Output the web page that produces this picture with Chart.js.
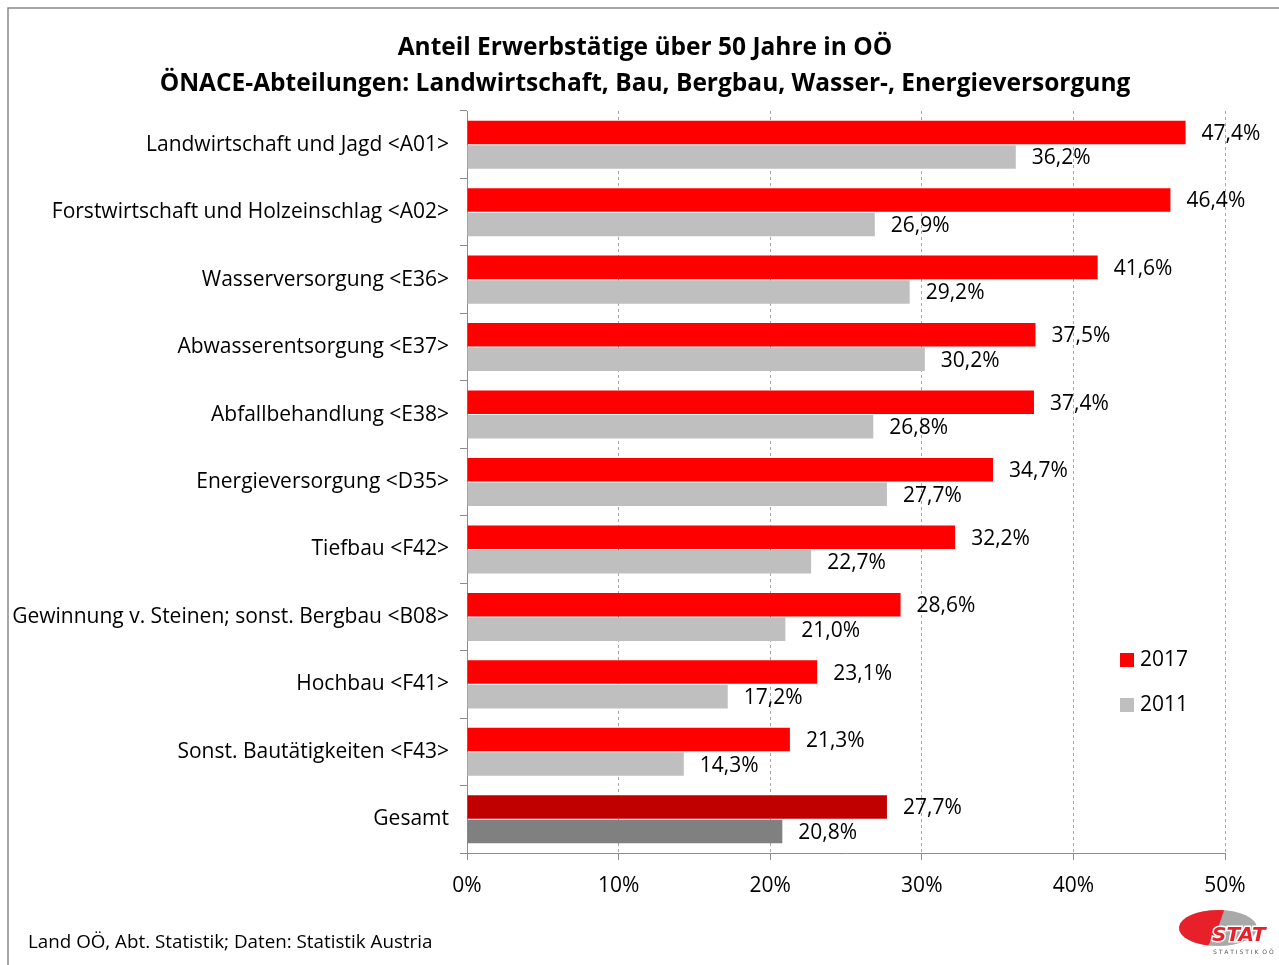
<!DOCTYPE html>
<html>
<head>
<meta charset="utf-8">
<script src="https://cdn.jsdelivr.net/npm/chart.js@4"></script>
<style>
  body { margin: 0; background: #fff; }
  #wrap { width: 1279px; height: 965px; }
</style>
</head>
<body>
<div id="wrap"><canvas id="chart" width="1279" height="965"></canvas></div>
<script>
// categories and values
const categories = [
  'Landwirtschaft und Jagd <A01>',
  'Forstwirtschaft und Holzeinschlag <A02>',
  'Wasserversorgung <E36>',
  'Abwasserentsorgung <E37>',
  'Abfallbehandlung <E38>',
  'Energieversorgung <D35>',
  'Tiefbau <F42>',
  'Gewinnung v. Steinen; sonst. Bergbau <B08>',
  'Hochbau <F41>',
  'Sonst. Bautätigkeiten <F43>',
  'Gesamt'
];
const values2017 = [47.4, 46.4, 41.6, 37.5, 37.4, 34.7, 32.2, 28.6, 23.1, 21.3, 27.7];
const values2011 = [36.2, 26.9, 29.2, 30.2, 26.8, 27.7, 22.7, 21.0, 17.2, 14.3, 20.8];
const xTicks = [0, 10, 20, 30, 40, 50];

const titleLines = [
  'Anteil Erwerbstätige über 50 Jahre in OÖ',
  'ÖNACE-Abteilungen: Landwirtschaft, Bau, Bergbau, Wasser-, Energieversorgung'
];
const sourceText = 'Land OÖ, Abt. Statistik; Daten: Statistik Austria';

const FONT = '"Open Sans", "Noto Sans", sans-serif';

// last bar (Gesamt) is drawn darker
const colors2017 = categories.map((c, i) => i === categories.length - 1 ? '#c00000' : '#ff0000');
const colors2011 = categories.map((c, i) => i === categories.length - 1 ? '#808080' : '#bfbfbf');

const fmt = v => v.toFixed(1).replace('.', ',') + '%';

// frame, titles, legend, source, logo and value labels
const extras = {
  id: 'extras',
  beforeDraw(chart) {
    const ctx = chart.ctx;
    ctx.save();
    ctx.fillStyle = '#fff';
    ctx.fillRect(0, 0, chart.width, chart.height);
    ctx.strokeStyle = '#8a8a8a';
    ctx.lineWidth = 1.5;
    ctx.beginPath();
    ctx.moveTo(8, chart.height);
    ctx.lineTo(8, 8);
    ctx.lineTo(chart.width, 8);
    ctx.stroke();
    ctx.restore();
  },
  afterDraw(chart) {
    const ctx = chart.ctx;
    ctx.save();
    // title
    ctx.fillStyle = '#000';
    ctx.textAlign = 'center';
    ctx.textBaseline = 'middle';
    ctx.font = 'bold 24.5px ' + FONT;
    ctx.fillText(titleLines[0], 645, 48);
    ctx.fillText(titleLines[1], 645, 84);

    // value labels
    ctx.font = '21px ' + FONT;
    ctx.textAlign = 'left';
    chart.data.datasets.forEach((ds, di) => {
      chart.getDatasetMeta(di).data.forEach((bar, i) => {
        ctx.fillText(fmt(ds.data[i]), bar.x + 16, bar.y + 1.5);
      });
    });

    // legend
    const legend = [['2017', '#ff0000', 660], ['2011', '#bfbfbf', 705]];
    legend.forEach(([txt, col, y]) => {
      ctx.fillStyle = col;
      ctx.fillRect(1120, y - 7, 14, 14);
      ctx.fillStyle = '#000';
      ctx.fillText(txt, 1140, y);
    });

    // source
    ctx.font = '18.8px ' + FONT;
    ctx.fillText(sourceText, 28, 943);

    // logo
    ctx.beginPath();
    ctx.ellipse(1218, 928, 39, 18, 0, 0, Math.PI * 2);
    ctx.fillStyle = '#a9a9a9';
    ctx.fill();
    ctx.beginPath();
    ctx.moveTo(1218, 928);
    ctx.ellipse(1218, 928, 39, 18, 0, Math.PI * 0.58, Math.PI * 1.55);
    ctx.closePath();
    ctx.fillStyle = '#e8202a';
    ctx.fill();
    ctx.font = 'bold italic 20px "DejaVu Sans", sans-serif';
    ctx.textAlign = 'left';
    ctx.lineWidth = 3;
    ctx.strokeStyle = '#fff';
    ctx.strokeText('STAT', 1212, 936);
    ctx.fillStyle = '#e8202a';
    ctx.fillText('STAT', 1212, 936);
    ctx.font = '6px "DejaVu Sans", sans-serif';
    ctx.fillStyle = '#555';
    ctx.fillText('S T A T I S T I K  O Ö', 1213, 952);
    ctx.restore();
  }
};

new Chart(document.getElementById('chart'), {
  type: 'bar',
  data: {
    labels: categories,
    datasets: [
      { label: '2017', data: values2017, backgroundColor: colors2017, categoryPercentage: 0.727, barPercentage: 0.96 },
      { label: '2011', data: values2011, backgroundColor: colors2011, categoryPercentage: 0.727, barPercentage: 0.96 }
    ]
  },
  options: {
    indexAxis: 'y',
    responsive: false,
    animation: false,
    layout: { padding: { top: 111, right: 54, bottom: 0, left: 0 } },
    plugins: {
      legend: { display: false },
      title: { display: false },
      tooltip: { enabled: false }
    },
    scales: {
      x: {
        min: 0,
        max: 50,
        afterFit: s => { s.height = 112; },
        afterBuildTicks: s => { s.ticks = xTicks.map(v => ({ value: v })); },
        ticks: {
          callback: v => v + '%',
          color: '#000',
          padding: 13,
          font: { family: FONT, size: 21 }
        },
        grid: {
          color: '#a6a6a6',
          tickColor: '#8c8c8c',
          tickLength: 7,
          lineWidth: 1
        },
        border: { color: '#8c8c8c', width: 1, dash: [3, 3] }
      },
      y: {
        afterFit: s => { s.width = 467; },
        ticks: {
          color: '#000',
          padding: 11,
          font: { family: FONT, size: 21 }
        },
        grid: {
          drawOnChartArea: false,
          tickColor: '#8c8c8c',
          tickLength: 7
        },
        border: { color: '#8c8c8c', width: 1 }
      }
    }
  },
  plugins: [extras]
});
</script>
</body>
</html>
